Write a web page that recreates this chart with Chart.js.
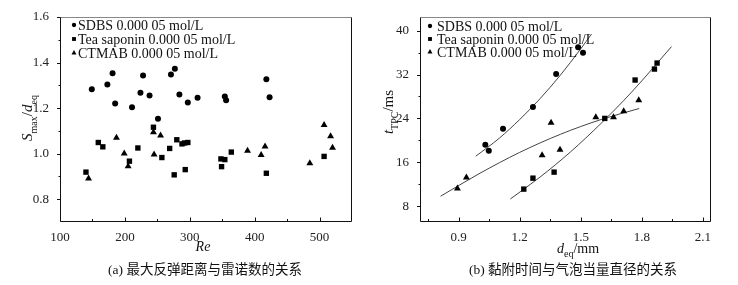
<!DOCTYPE html>
<html>
<head>
<meta charset="utf-8">
<script src="https://cdn.jsdelivr.net/npm/chart.js@4.4.1/dist/chart.umd.min.js"></script>
<style>
body { margin: 0; background: #fff; }
#wrap { position: relative; width: 738px; height: 285px; overflow: hidden; background: #fff; }
canvas { position: absolute; top: 0; }
#chartA { left: 0; }
#chartB { left: 369px; }
.cap { position: absolute; top: 258px; font: 13.5px 'Liberation Serif', 'Noto Sans CJK SC', serif; color: #111; white-space: nowrap; transform: translateX(-50%); }
</style>
</head>
<body>
<div id="wrap">
  <canvas id="chartA" width="369" height="285"></canvas>
  <canvas id="chartB" width="369" height="285"></canvas>
  <div class="cap" style="left:205px">(a) 最大反弹距离与雷诺数的关系</div>
  <div class="cap" style="left:573px">(b) 黏附时间与气泡当量直径的关系</div>
</div>
<script>
// ---- (a) S_max/d_eq vs Re ----
const reSDBS   = [149, 173, 181, 185, 211, 224, 228, 238, 251, 271, 277, 284, 297, 312, 354, 356, 418, 423];
const smaxSDBS = [1.283, 1.304, 1.353, 1.220, 1.204, 1.267, 1.343, 1.255, 1.153, 1.348, 1.373, 1.260, 1.225, 1.245, 1.251, 1.235, 1.327, 1.248];
const reTea    = [140, 159, 166, 207, 220, 244, 257, 269, 276, 280, 288, 292, 293, 297, 348, 349, 354, 364, 418, 507];
const smaxTea  = [0.919, 1.049, 1.030, 0.967, 1.025, 1.116, 0.983, 1.023, 0.907, 1.061, 1.043, 1.047, 0.930, 1.049, 0.977, 0.943, 0.974, 1.007, 0.914, 0.988];
const reCTMAB   = [144, 187, 199, 205, 244, 245, 255, 389, 410, 416, 485, 507, 517, 520];
const smaxCTMAB = [0.891, 1.070, 1.001, 0.945, 1.094, 0.996, 1.080, 1.013, 0.994, 1.032, 0.958, 1.126, 1.077, 1.026];
const ticksReA   = [100, 200, 300, 400, 500];
const minorReA   = [150, 250, 350, 450];
const ticksSmaxA = [0.8, 1.0, 1.2, 1.4, 1.6];
const minorSmaxA = [0.9, 1.1, 1.3, 1.5];

// ---- (b) t_TPC vs d_eq ----
const dSDBS  = [1.031, 1.048, 1.118, 1.265, 1.379, 1.487, 1.511];
const tSDBS  = [19.2, 18.1, 22.1, 26.1, 32.1, 37.0, 36.0];
const dTea   = [1.220, 1.265, 1.369, 1.618, 1.767, 1.862, 1.875];
const tTea   = [11.1, 13.1, 14.2, 24.0, 31.0, 33.0, 34.1];
const dCTMAB = [0.894, 0.938, 1.310, 1.354, 1.398, 1.574, 1.661, 1.711, 1.785];
const tCTMAB = [11.2, 13.2, 17.3, 23.2, 18.3, 24.2, 24.2, 25.3, 27.3];
// fitted curves
const fitDSDBS  = [0.984, 1.1, 1.2, 1.3, 1.4, 1.5, 1.553];
const fitTSDBS  = [17.1, 20.4, 23.8, 27.6, 31.9, 36.7, 39.4];
const fitDTea   = [1.154, 1.3, 1.45, 1.6, 1.75, 1.946];
const fitTTea   = [9.3, 13.3, 17.9, 23.1, 28.8, 37.1];
const fitDCTMAB = [0.811, 1.0, 1.2, 1.4, 1.6, 1.787];
const fitTCTMAB = [9.8, 13.9, 17.8, 21.1, 23.8, 25.8];
const ticksDB   = [0.9, 1.2, 1.5, 1.8, 2.1];
const minorDB   = [0.75, 1.05, 1.35, 1.65, 1.95];
const ticksTB   = [8, 16, 24, 32, 40];
const minorTB   = [12, 20, 28, 36];

const labels = ['SDBS 0.000 05 mol/L', 'Tea saponin 0.000 05 mol/L', 'CTMAB 0.000 05 mol/L'];
const SERIF = "'Liberation Serif', 'Times New Roman', serif";

function pts(xs, ys) {
    return xs.map((x, i) => ({ x: x, y: ys[i] }));
}

function drawRich(ctx, parts, cx, cy, rotate, size) {
    const fontOf = p => (p.it ? 'italic ' : '') + (p.sub ? Math.round(size * 0.68) : size) + 'px ' + SERIF;
    let total = 0;
    const widths = parts.map(p => { ctx.font = fontOf(p); const w = ctx.measureText(p.t).width; total += w; return w; });
    ctx.save();
    ctx.translate(cx, cy);
    if (rotate) ctx.rotate(-Math.PI / 2);
    ctx.textAlign = 'left';
    ctx.textBaseline = 'alphabetic';
    ctx.fillStyle = '#111';
    let x = -total / 2;
    parts.forEach((p, i) => {
        ctx.font = fontOf(p);
        ctx.fillText(p.t, x, size * 0.35 + (p.sub ? size * 0.3 : 0));
        x += widths[i];
    });
    ctx.restore();
}

// frame, inward x ticks, outward y ticks, axis titles
const framePlugin = {
    id: 'frame',
    afterDatasetsDraw(chart, args, o) {
        const { ctx, chartArea: a, scales } = chart;
        const L = Math.round(a.left) + 0.5, R = Math.round(a.right) - 0.5;
        const T = Math.round(a.top) + 0.5, B = Math.round(a.bottom) - 0.5;
        ctx.save();
        ctx.lineWidth = 1;
        ctx.strokeStyle = '#888';
        ctx.beginPath(); ctx.moveTo(L, T); ctx.lineTo(R, T); ctx.stroke();
        ctx.strokeStyle = '#111';
        ctx.beginPath();
        ctx.moveTo(R, T); ctx.lineTo(R, B); ctx.lineTo(L, B); ctx.lineTo(L, T);
        ctx.stroke();
        ctx.beginPath();
        scales.x.ticks.forEach(t => { const px = Math.round(scales.x.getPixelForValue(t.value)) + 0.5; ctx.moveTo(px, B); ctx.lineTo(px, B - 4); });
        o.minorX.forEach(v => { const px = Math.round(scales.x.getPixelForValue(v)) + 0.5; ctx.moveTo(px, B); ctx.lineTo(px, B - 2.5); });
        scales.y.ticks.forEach(t => { const py = Math.round(scales.y.getPixelForValue(t.value)) + 0.5; ctx.moveTo(L, py); ctx.lineTo(L - 3.5, py); });
        o.minorY.forEach(v => { const py = Math.round(scales.y.getPixelForValue(v)) + 0.5; ctx.moveTo(L, py); ctx.lineTo(L - 2, py); });
        ctx.stroke();
        ctx.restore();
        drawRich(ctx, o.xTitle.parts, o.xTitle.cx, o.xTitle.cy, false, 14);
        drawRich(ctx, o.yTitle.parts, o.yTitle.cx, o.yTitle.cy, true, 15);
    }
};

// legend drawn inside the plot area, top left
const insideLegend = {
    id: 'insideLegend',
    afterDraw(chart, args, o) {
        const { ctx, chartArea: a } = chart;
        ctx.save();
        ctx.font = '14px ' + SERIF;
        ctx.textBaseline = 'middle';
        ctx.textAlign = 'left';
        chart.data.datasets.filter(d => d.label).forEach((d, i) => {
            const y = a.top + o.top + i * o.gap;
            ctx.fillStyle = '#000';
            Chart.helpers.drawPoint(ctx, { pointStyle: d.pointStyle, radius: d.pointRadius * 0.72, borderWidth: 0, rotation: 0 }, a.left + o.markX, y);
            ctx.fillStyle = '#111';
            ctx.fillText(d.label, a.left + o.textX, y + 1);
        });
        ctx.restore();
    }
};

function scatterSet(label, data, style, r) {
    return { label: label, data: data, pointStyle: style, pointRadius: r, pointBorderWidth: 0,
             backgroundColor: '#000', borderColor: '#000', showLine: false };
}
function fitSet(data) {
    return { label: '', data: data, showLine: true, pointRadius: 0, borderColor: '#444', borderWidth: 1,
             cubicInterpolationMode: 'monotone', fill: false };
}

function axis(min, max, tickVals, size) {
    return {
        type: 'linear', min: min, max: max,
        afterBuildTicks: s => { s.ticks = tickVals.map(v => ({ value: v })); },
        grid: { display: false }, border: { display: false },
        ticks: { font: { family: SERIF, size: 13 }, color: '#222', padding: 3, autoSkip: false, maxRotation: 0,
                 callback: v => tickVals.includes(v) ? String(Number(v.toFixed(2))).replace(/^(\d)$/, '$1') : '' },
        afterFit: s => { if (s.isHorizontal()) s.height = size; else s.width = size; }
    };
}

function baseOptions(xAxis, yAxis, padRight, frameOpts, legendOpts) {
    return {
        responsive: false, animation: false, events: [],
        layout: { padding: { left: 0, top: 17, right: padRight, bottom: 0 } },
        scales: { x: xAxis, y: yAxis },
        plugins: { legend: { display: false }, tooltip: { enabled: false }, frame: frameOpts, insideLegend: legendOpts }
    };
}

const xA = axis(100, 550, ticksReA, 63);
xA.ticks.padding = 0;
const yA = axis(0.7, 1.6, ticksSmaxA, 60);
yA.ticks.callback = v => v.toFixed(1);

new Chart(document.getElementById('chartA'), {
    type: 'scatter',
    data: { datasets: [
        scatterSet(labels[0], pts(reSDBS, smaxSDBS), 'circle', 3),
        scatterSet(labels[1], pts(reTea, smaxTea), 'rect', 3.8),
        scatterSet(labels[2], pts(reCTMAB, smaxCTMAB), 'triangle', 4)
    ] },
    options: baseOptions(xA, yA, 17,
        { minorX: minorReA, minorY: minorSmaxA,
          xTitle: { parts: [{ t: 'Re', it: true }], cx: 203, cy: 246 },
          yTitle: { parts: [{ t: 'S', it: true }, { t: 'max', sub: true }, { t: '/' }, { t: 'd', it: true }, { t: 'eq', sub: true }], cx: 27, cy: 118 } },
        { top: 8, gap: 14, markX: 14, textX: 18 }),
    plugins: [framePlugin, insideLegend]
});

const xB = axis(0.71, 2.14, ticksDB, 63);
xB.ticks.padding = 0;
xB.ticks.callback = v => v.toFixed(1);
const yB = axis(5.1, 42.5, ticksTB, 51);
yB.ticks.callback = v => String(v);

new Chart(document.getElementById('chartB'), {
    type: 'scatter',
    data: { datasets: [
        scatterSet(labels[0], pts(dSDBS, tSDBS), 'circle', 3),
        scatterSet(labels[1], pts(dTea, tTea), 'rect', 3.8),
        scatterSet(labels[2], pts(dCTMAB, tCTMAB), 'triangle', 4),
        fitSet(pts(fitDSDBS, fitTSDBS)),
        fitSet(pts(fitDTea, fitTTea)),
        fitSet(pts(fitDCTMAB, fitTCTMAB))
    ] },
    options: baseOptions(xB, yB, 27,
        { minorX: minorDB, minorY: minorTB,
          xTitle: { parts: [{ t: 'd', it: true }, { t: 'eq', sub: true }, { t: '/mm' }], cx: 209, cy: 248 },
          yTitle: { parts: [{ t: 't', it: true }, { t: 'TPC', sub: true }, { t: '/ms' }], cx: 19, cy: 112 } },
        { top: 9, gap: 13, markX: 10, textX: 17 }),
    plugins: [framePlugin, insideLegend]
});
</script>
</body>
</html>
